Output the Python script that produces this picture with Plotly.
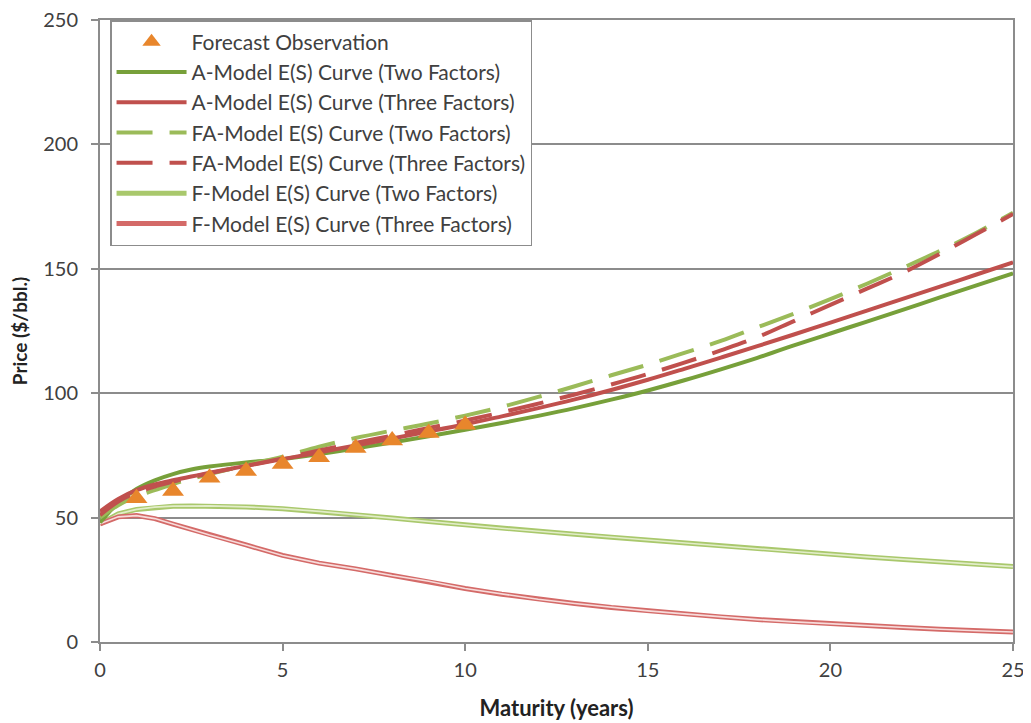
import plotly.graph_objects as go

# ---------------- data ----------------
obs_t = [1, 2, 3, 4, 5, 6, 7, 8, 9, 10]
obs_price = [57.8, 60.7, 66.0, 68.7, 71.5, 74.3, 78.0, 81.0, 84.0, 87.3]

t = [0, 0.5, 1, 1.5, 2, 2.5, 3, 4, 5, 6, 7, 8, 9, 10, 11, 12, 13, 14, 15,
     16, 17, 18, 19, 20, 21, 22, 23, 24, 25]

a_two = [48.0, 56.0, 61.5, 65.0, 67.5, 69.3, 70.5, 72.2, 73.5, 75.5, 77.8, 80.2,
         82.7, 85.3, 88.0, 90.9, 94.0, 97.4, 101.1, 105.2, 109.6, 114.2, 119.2,
         124.0, 128.8, 133.6, 138.5, 143.3, 148.2]
a_three = [52.5, 57.5, 61.0, 63.3, 65.0, 66.5, 68.0, 70.8, 73.5, 76.2, 79.0, 81.8,
           84.6, 87.5, 90.7, 94.0, 97.5, 101.3, 105.4, 109.8, 114.3, 118.9, 123.6,
           128.4, 133.2, 138.0, 142.8, 147.7, 152.6]
fa_two = [50.0, 55.0, 58.5, 61.0, 63.5, 65.6, 67.5, 71.0, 74.5, 78.5, 82.0, 85.0,
          87.8, 91.0, 94.5, 98.5, 102.8, 107.2, 111.5, 116.2, 121.0, 126.5, 132.0,
          137.8, 144.0, 150.5, 157.2, 164.5, 172.5]
fa_three = [51.0, 56.5, 60.0, 62.5, 64.5, 66.2, 67.8, 70.8, 73.8, 77.0, 80.0, 83.0,
            86.0, 89.0, 92.3, 95.8, 99.5, 103.5, 107.7, 112.3, 117.2, 122.5, 129.0,
            135.5, 142.0, 148.5, 156.0, 164.0, 172.0]
f_two = [47.5, 51.5, 53.3, 54.2, 54.6, 54.7, 54.7, 54.3, 53.6, 52.5, 51.1, 49.8,
         48.4, 47.0, 45.7, 44.5, 43.3, 42.1, 40.9, 39.8, 38.6, 37.5, 36.4, 35.2,
         34.2, 33.2, 32.2, 31.2, 30.3]
f_three = [47.5, 50.3, 50.8, 49.6, 47.4, 45.2, 43.0, 39.0, 34.8, 31.7, 29.4, 26.7,
           24.4, 21.5, 19.2, 17.2, 15.5, 13.9, 12.5, 11.3, 10.1, 9.0, 8.1, 7.3,
           6.5, 5.8, 5.1, 4.5, 4.0]

names = {
    "obs": "Forecast Observation",
    "a2": "A-Model E(S) Curve (Two Factors)",
    "a3": "A-Model E(S) Curve (Three Factors)",
    "fa2": "FA-Model E(S) Curve (Two Factors)",
    "fa3": "FA-Model E(S) Curve (Three Factors)",
    "f2": "F-Model E(S) Curve (Two Factors)",
    "f3": "F-Model E(S) Curve (Three Factors)",
}

x_ticks = [0, 5, 10, 15, 20, 25]
y_ticks = [0, 50, 100, 150, 200, 250]

# ---------------- styles ----------------
GREEN_DARK = "#77A03A"
GREEN_MID = "#9BBB59"
RED = "#C0504D"
ORANGE = "#E8862C"
FONT = "Lato"
TXT = "#404040"
GRID = "#8C8C8C"

fig = go.Figure()

# F-model double lines (outer + inner)
fig.add_trace(go.Scatter(x=t, y=f_two, mode="lines", name=names["f2"],
                         line=dict(color="#A9C86C", width=5), legendrank=6))
fig.add_trace(go.Scatter(x=t, y=f_two, mode="lines", showlegend=False, hoverinfo="skip",
                         line=dict(color="#E2EDC8", width=1.6)))
fig.add_trace(go.Scatter(x=t, y=f_three, mode="lines", name=names["f3"],
                         line=dict(color="#D46A68", width=5), legendrank=7))
fig.add_trace(go.Scatter(x=t, y=f_three, mode="lines", showlegend=False, hoverinfo="skip",
                         line=dict(color="#F7DCDB", width=1.6)))

fig.add_trace(go.Scatter(x=t, y=a_two, mode="lines", name=names["a2"], line_shape="spline",
                         line=dict(color=GREEN_DARK, width=4), legendrank=2))
fig.add_trace(go.Scatter(x=t, y=a_three, mode="lines", name=names["a3"], line_shape="spline",
                         line=dict(color=RED, width=4), legendrank=3))
fig.add_trace(go.Scatter(x=t, y=fa_two, mode="lines", name=names["fa2"], line_shape="spline",
                         line=dict(color=GREEN_MID, width=4, dash="36px,17px"), legendrank=4))
fig.add_trace(go.Scatter(x=t, y=fa_three, mode="lines", name=names["fa3"], line_shape="spline",
                         line=dict(color=RED, width=4, dash="36px,17px"), legendrank=5))

fig.add_trace(go.Scatter(x=obs_t, y=obs_price, mode="markers", name=names["obs"],
                         marker=dict(symbol="triangle-up", size=19, color=ORANGE,
                                     line=dict(width=0)), legendrank=1))

# page body has an 8px default margin, so the figure is sized/offset accordingly
fig.update_layout(
    width=1023, height=715,
    margin=dict(l=92, r=18, t=12, b=81),
    paper_bgcolor="white", plot_bgcolor="white",
    font=dict(family=FONT, color=TXT, size=20),
    legend=dict(
        x=0.011, y=1.0, xanchor="left", yanchor="top",
        bgcolor="white", bordercolor=GRID, borderwidth=1.5,
        font=dict(family=FONT, size=21, color=TXT),
        itemwidth=70, traceorder="normal",
    ),
    showlegend=True,
)

fig.update_xaxes(
    range=[0, 25], tickvals=x_ticks, ticktext=[str(v) for v in x_ticks],
    showgrid=False, zeroline=False, automargin=False,
    showline=True, linecolor=GRID, linewidth=2, mirror=True,
    ticks="outside", ticklen=7, tickcolor=GRID, tickwidth=2, ticklabelstandoff=2,
    ticklabeloverflow="allow",
    tickfont=dict(family=FONT, size=20, color=TXT),
    title=dict(text="<b>Maturity (years)</b>", font=dict(family=FONT, size=22, color="#222222"),
               standoff=21),
)
fig.update_yaxes(
    range=[0, 250], tickvals=y_ticks, ticktext=[str(v) for v in y_ticks],
    showgrid=True, gridcolor=GRID, gridwidth=1.5, zeroline=False, automargin=False,
    showline=True, linecolor=GRID, linewidth=2, mirror=True,
    ticks="outside", ticklen=7, tickcolor=GRID, tickwidth=2, ticklabelstandoff=9,
    ticklabeloverflow="allow",
    tickfont=dict(family=FONT, size=20, color=TXT),
    title=dict(text="<b>Price ($/bbl.)</b>", font=dict(family=FONT, size=19, color="#222222"),
               standoff=12),
)

fig.write_html("out.html")
